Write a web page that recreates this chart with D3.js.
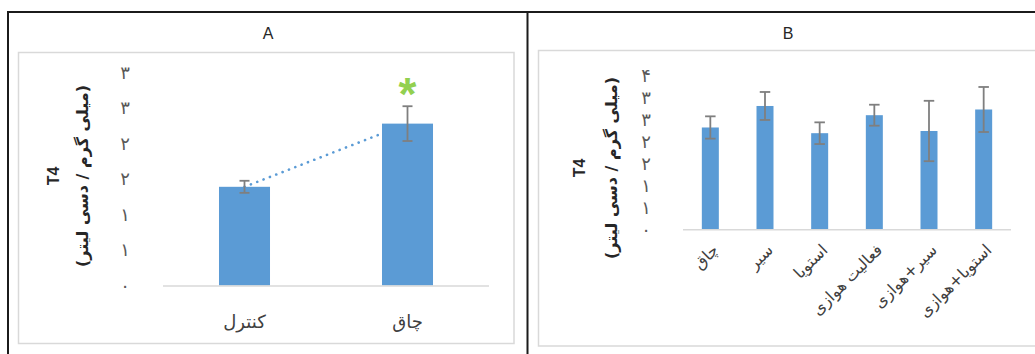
<!DOCTYPE html>
<html><head><meta charset="utf-8">
<script src="https://d3js.org/d3.v7.min.js"></script>
<style>
html,body{margin:0;padding:0;background:#fff;}
svg{display:block;}
</style>
</head><body>
<svg id="c" width="1035" height="354"></svg>
<script>
// ---- data ----
const catsA = ["کنترل", "چاق"];
const valsA = [1.39, 2.28];
const errA = [0.085, 0.245];
const ticksA = [0, 0.5, 1, 1.5, 2, 2.5, 3];
const tickLabelsA = ["۰", "۱", "۱", "۲", "۲", "۳", "۳"];

const catsB = ["چاق", "سیر", "استویا", "فعالیت هوازی", "سیر+هوازی", "استویا+هوازی"];
const valsB = [2.32, 2.81, 2.19, 2.60, 2.24, 2.73];
const errB = [0.254, 0.319, 0.247, 0.239, 0.688, 0.513];
const ticksB = [0, 0.5, 1, 1.5, 2, 2.5, 3, 3.5];
const tickLabelsB = ["۰", "۱", "۱", "۲", "۲", "۳", "۳", "۴"];

const yTitle1 = "T4";
const yTitle2 = "(میلی گرم / دسی لیتر)";
const panelTitles = ["A", "B"];

// ---- drawing ----
const svg = d3.select("#c");
const BAR = "#5b9bd5", ERR = "#7f7f7f", AX = "#d9d9d9";
const AR = "'DejaVu Sans', sans-serif";
const LAT = "'Liberation Sans', Arial, sans-serif";

// inner chart boxes
svg.append("rect").attr("x", 18.5).attr("y", 52.5).attr("width", 495.5).attr("height", 291)
  .attr("fill", "none").attr("stroke", AX).attr("stroke-width", 1.5);
svg.append("rect").attr("x", 538.5).attr("y", 50.5).attr("width", 500).attr("height", 295.5)
  .attr("fill", "none").attr("stroke", AX).attr("stroke-width", 1.5);

// outer table lines
const blk = "#1b1b1b";
svg.append("line").attr("x1", 7).attr("x2", 1035).attr("y1", 12).attr("y2", 12).attr("stroke", blk).attr("stroke-width", 2);
svg.append("line").attr("x1", 8).attr("x2", 8).attr("y1", 11).attr("y2", 354).attr("stroke", blk).attr("stroke-width", 2);
svg.append("line").attr("x1", 527.5).attr("x2", 527.5).attr("y1", 11).attr("y2", 354).attr("stroke", blk).attr("stroke-width", 2);

// titles
[[268, panelTitles[0]], [788, panelTitles[1]]].forEach(([x, t]) => {
  svg.append("text").attr("x", x).attr("y", 39).attr("text-anchor", "middle")
    .attr("font-family", LAT).attr("font-size", 16).attr("fill", "#262626").text(t);
});

function yTitles(x1, x2, cy) {
  svg.append("text").attr("transform", `translate(${x1},${cy}) rotate(-90)`)
    .attr("text-anchor", "middle").attr("dy", "0.35em")
    .attr("font-family", LAT).attr("font-weight", "bold").attr("font-size", 16).attr("fill", "#262626")
    .text(yTitle1);
  svg.append("text").attr("transform", `translate(${x2},${cy}) rotate(-90)`)
    .attr("text-anchor", "middle").attr("dy", "0.35em").attr("direction", "rtl")
    .attr("font-family", AR).attr("font-weight", "bold").attr("font-size", 16).attr("fill", "#262626")
    .text(yTitle2);
}

function panel(cfg) {
  const g = svg.append("g");
  const x = d3.scaleBand().domain(cfg.cats).range(cfg.xr).padding(0);
  const y = d3.scaleLinear().domain(cfg.yd).range(cfg.yr);
  const bw = x.bandwidth() * cfg.bf;
  const cx = c => x(c) + x.bandwidth() / 2;

  // y tick labels via axis
  const ax = d3.axisLeft(y).tickValues(cfg.ticks).tickSize(0).tickPadding(0)
    .tickFormat((d, i) => cfg.tickLabels[i]);
  const ag = g.append("g").attr("transform", `translate(${cfg.tickX},0)`).call(ax);
  ag.select(".domain").remove();
  ag.selectAll("text").attr("text-anchor", "middle").attr("x", 0)
    .attr("font-family", AR).attr("font-size", 18).attr("fill", "#595959");

  // trendline (drawn beneath bars)
  if (cfg.trend) {
    const lr = d3.line().x(d => cx(d.c)).y(d => y(d.v));
    g.append("path").datum(cfg.cats.map((c, i) => ({ c, v: cfg.vals[i] })))
      .attr("d", lr).attr("fill", "none").attr("stroke", BAR).attr("stroke-width", 2.6)
      .attr("stroke-linecap", "round").attr("stroke-dasharray", "0.1 6.7");
  }

  // bars
  g.selectAll("rect.bar").data(cfg.cats).join("rect").attr("class", "bar")
    .attr("x", c => cx(c) - bw / 2).attr("width", bw)
    .attr("y", (c, i) => y(cfg.vals[i])).attr("height", (c, i) => y(0) - y(cfg.vals[i]))
    .attr("fill", BAR);

  // x axis line
  g.append("line").attr("x1", cfg.xr[0]).attr("x2", cfg.xr[1])
    .attr("y1", y(0) + 0.5).attr("y2", y(0) + 0.5).attr("stroke", AX).attr("stroke-width", 1.5);

  // error bars
  const cap = cfg.cap;
  cfg.cats.forEach((c, i) => {
    const hi = y(cfg.vals[i] + cfg.errs[i]), lo = y(cfg.vals[i] - cfg.errs[i]);
    g.append("line").attr("x1", cx(c)).attr("x2", cx(c)).attr("y1", hi).attr("y2", lo)
      .attr("stroke", ERR).attr("stroke-width", 1.8);
    [hi, lo].forEach(yy => g.append("line").attr("x1", cx(c) - cap / 2).attr("x2", cx(c) + cap / 2)
      .attr("y1", yy).attr("y2", yy).attr("stroke", ERR).attr("stroke-width", 1.8));
  });

  return { x, y, cx };
}

// ---- Panel A ----
const A = panel({ cats: catsA, vals: valsA, errs: errA, xr: [163, 489], yd: [0, 3], yr: [285.5, 72.5],
  bf: 0.313, ticks: ticksA, tickLabels: tickLabelsA, tickX: 125, trend: true, cap: 10 });
catsA.forEach(c => {
  svg.append("text").attr("x", A.cx(c)).attr("y", 328).attr("text-anchor", "middle")
    .attr("font-family", AR).attr("font-size", 18).attr("fill", "#404040").text(c);
});
// significance asterisk
svg.append("text").attr("x", A.cx(catsA[1])).attr("y", 110).attr("text-anchor", "middle")
  .attr("font-family", LAT).attr("font-weight", "bold").attr("font-size", 46).attr("fill", "#92d050").text("*");
yTitles(53, 82, 176);

// ---- Panel B ----
const B = panel({ cats: catsB, vals: valsB, errs: errB, xr: [683, 1011], yd: [0, 3.5], yr: [229.3, 75.7],
  bf: 0.311, ticks: ticksB, tickLabels: tickLabelsB, tickX: 646, trend: false, cap: 10.5 });
catsB.forEach(c => {
  svg.append("text").attr("transform", `translate(${B.cx(c) + 9},${251}) rotate(-45)`)
    .attr("text-anchor", "end")
    .attr("font-family", AR).attr("font-size", 16).attr("fill", "#404040").text(c);
});
yTitles(579, 611, 168);
</script>
</body></html>
